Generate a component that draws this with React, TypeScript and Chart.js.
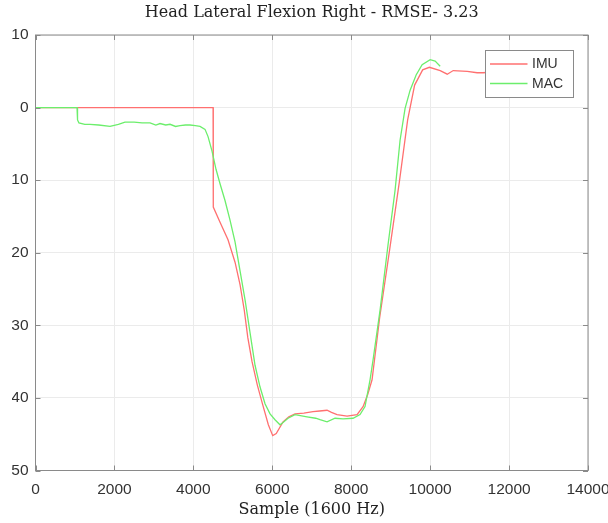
import React, { useEffect, useRef } from "react";
import { Chart, registerables } from "chart.js";

Chart.register(...registerables);

const TITLE = "Head Lateral Flexion Right - RMSE- 3.23";
const X_TITLE = "Sample (1600 Hz)";
const LEGEND_LABELS = ["IMU", "MAC"];
const X_MIN = 0;
const X_MAX = 14000;
const X_STEP = 2000;
const Y_MIN = -50;
const Y_MAX = 10;
const Y_STEP = 10;

const imuX = [0, 4500, 4505, 4676, 4878, 5056, 5183, 5290, 5380, 5487, 5620, 5760, 5900, 6011, 6100, 6272, 6420, 6576, 6800, 7032, 7200, 7387, 7500, 7641, 7894, 8148, 8300, 8420, 8528, 8719, 8973, 9226, 9430, 9607, 9810, 9981, 10255, 10433, 10585, 10940, 11190, 11340, 11600, 11800];
const imuY = [0, 0, -13.7, -15.8, -18.2, -21.3, -24.4, -27.9, -31.7, -35, -38.2, -41, -43.7, -45.2, -44.9, -43.3, -42.6, -42.2, -42.1, -41.9, -41.8, -41.7, -42.0, -42.3, -42.5, -42.3, -41.2, -39.5, -37.5, -29, -19.6, -10, -1.7, 3.1, 5.2, 5.55, 5.1, 4.6, 5.1, 5.0, 4.8, 4.8, 4.9, 4.8];

const macX = [0, 1052, 1065, 1100, 1250, 1381, 1600, 1888, 2100, 2268, 2500, 2700, 2902, 3050, 3155, 3300, 3409, 3550, 3662, 3800, 3915, 4050, 4169, 4296, 4372, 4473, 4574, 4676, 4802, 4929, 5056, 5183, 5310, 5436, 5563, 5690, 5816, 5943, 6069, 6196, 6272, 6400, 6576, 6880, 7100, 7209, 7387, 7590, 7793, 8046, 8223, 8350, 8477, 8553, 8731, 8933, 9111, 9238, 9365, 9493, 9645, 9797, 10000, 10127, 10254];
const macY = [0, 0, -1.7, -2.1, -2.3, -2.3, -2.4, -2.6, -2.3, -2.0, -2.0, -2.1, -2.1, -2.4, -2.2, -2.4, -2.3, -2.6, -2.5, -2.4, -2.4, -2.5, -2.6, -3.0, -4, -6, -8.5, -10.5, -12.8, -15.5, -18.5, -22.5, -26.5, -31, -35.5, -38.5, -40.8, -42.2, -43, -43.7, -43.4, -42.8, -42.3, -42.6, -42.8, -43.0, -43.3, -42.8, -42.9, -42.8, -42.3, -41.2, -37.5, -34.8, -27.9, -18.9, -11.4, -4.5, -0.1, 2.4, 4.5, 5.9, 6.6, 6.4, 5.7];

const RED = "#ff7070";
const GREEN = "#6cee6c";
const AXIS = "#8a8a8a";
const TEXT = "#333333";

const decorPlugin = {
  id: "decor",
  afterDatasetsDraw(chart: any) {
    const { ctx, chartArea: a, scales } = chart;
    ctx.save();
    ctx.strokeStyle = AXIS;
    ctx.lineWidth = 1;
    ctx.strokeRect(a.left, a.top, a.right - a.left, a.bottom - a.top);
    const tl = 5;
    ctx.beginPath();
    scales.x.ticks.forEach((t: any) => {
      const px = Math.round(scales.x.getPixelForValue(t.value)) + 0.5;
      ctx.moveTo(px, a.bottom);
      ctx.lineTo(px, a.bottom - tl);
      ctx.moveTo(px, a.top);
      ctx.lineTo(px, a.top + tl);
    });
    scales.y.ticks.forEach((t: any) => {
      const py = Math.round(scales.y.getPixelForValue(t.value)) + 0.5;
      ctx.moveTo(a.left, py);
      ctx.lineTo(a.left + tl, py);
      ctx.moveTo(a.right, py);
      ctx.lineTo(a.right - tl, py);
    });
    ctx.stroke();

    // legend
    const lx = 485.5, ly = 50.5, lw = 88, lh = 47;
    ctx.fillStyle = "#ffffff";
    ctx.fillRect(lx, ly, lw, lh);
    ctx.strokeStyle = AXIS;
    ctx.strokeRect(lx, ly, lw, lh);
    const colors = [RED, GREEN];
    const rows = [64, 83.5];
    ctx.font = "14px 'Liberation Sans', Arial, sans-serif";
    ctx.textBaseline = "middle";
    ctx.textAlign = "left";
    LEGEND_LABELS.forEach((lab, i) => {
      ctx.strokeStyle = colors[i];
      ctx.lineWidth = 1.3;
      ctx.beginPath();
      ctx.moveTo(490, rows[i]);
      ctx.lineTo(527.5, rows[i]);
      ctx.stroke();
      ctx.fillStyle = TEXT;
      ctx.fillText(lab, 532, rows[i] + 0.5);
    });

    // titles
    ctx.fillStyle = "#222222";
    ctx.textAlign = "center";
    ctx.textBaseline = "middle";
    const cx = (a.left + a.right) / 2;
    ctx.font = "16px 'DejaVu Serif', 'Liberation Serif', serif";
    ctx.fillText(TITLE, cx, 13);
    ctx.fillText(X_TITLE, cx, 510);
    ctx.restore();
  },
};

export default function App() {
  const ref = useRef<HTMLCanvasElement | null>(null);
  useEffect(() => {
    if (!ref.current) return;
    const chart = new Chart(ref.current, {
      type: "line",
      data: {
        datasets: [
          {
            label: LEGEND_LABELS[1],
            data: macX.map((x, i) => ({ x, y: macY[i] })),
            borderColor: GREEN,
            borderWidth: 1.3,
            pointRadius: 0,
            tension: 0,
          },
          {
            label: LEGEND_LABELS[0],
            data: imuX.map((x, i) => ({ x, y: imuY[i] })),
            borderColor: RED,
            borderWidth: 1.3,
            pointRadius: 0,
            tension: 0,
          },
        ],
      },
      options: {
        animation: false,
        responsive: false,
        maintainAspectRatio: false,
        layout: { padding: { left: 0, top: 35, right: 72, bottom: 0 } },
        plugins: { legend: { display: false }, title: { display: false }, tooltip: { enabled: false } },
        scales: {
          x: {
            type: "linear",
            min: X_MIN,
            max: X_MAX,
            afterFit: (s: any) => { s.height = 52.5; },
            ticks: {
              stepSize: X_STEP,
              padding: 10,
              maxRotation: 0,
              color: TEXT,
              callback: (v: any) => String(v),
              font: { family: "'Liberation Sans', Arial, sans-serif", size: 15.5 },
            },
            grid: { color: "#ebebeb", drawTicks: false },
            border: { display: false },
          },
          y: {
            type: "linear",
            min: Y_MIN,
            max: Y_MAX,
            afterFit: (s: any) => { s.width = 35.5; },
            ticks: {
              stepSize: Y_STEP,
              padding: 7,
              color: TEXT,
              callback: (v: any) => String(v),
              font: { family: "'Liberation Sans', Arial, sans-serif", size: 15.5 },
            },
            grid: { color: "#ebebeb", drawTicks: false },
            border: { display: false },
          },
        },
      },
      plugins: [decorPlugin],
    } as any);
    return () => chart.destroy();
  }, []);

  return (
    <div style={{ position: "absolute", left: 12, top: 0, width: 596, height: 523, overflow: "hidden", background: "#fff" }}>
      <canvas ref={ref} width={660} height={523} style={{ position: "absolute", left: -12, top: 0, width: 660, height: 523 }} />
    </div>
  );
}
